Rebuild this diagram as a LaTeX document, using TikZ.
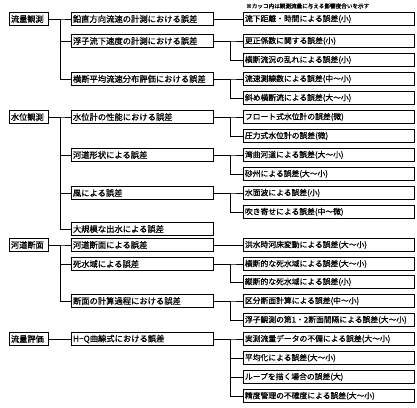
\documentclass[tikz,border=0pt]{standalone}
\usepackage{fontspec}
\setmainfont{Noto Sans CJK JP}[FakeBold=0.9]
\begin{document}
\begin{tikzpicture}[x=1pt,y=-1pt,
  box/.style={draw=black,line width=0.9pt,anchor=west,inner xsep=1.5pt,inner ysep=0pt,minimum height=13pt,align=left},
  lone/.style={box,text width=36pt,font=\fontsize{8.2}{9}\selectfont},
  ltwo/.style={box,text width=139pt,font=\fontsize{8.3}{9}\selectfont},
  lthree/.style={box,text width=168pt,font=\fontsize{7.8}{9}\selectfont},
  conn/.style={draw=black,line width=0.9pt}]
\useasboundingbox (0,0) rectangle (417,407);
\node[anchor=west,font=\fontsize{5.6}{6}\selectfont,inner sep=0pt] (note) at (246,6) {※カッコ内は観測流量に与える影響度合いを示す};
% level 1
\node[lone] (A) at (9,19) {流量観測};
\node[lone] (B) at (9,117) {水位観測};
\node[lone] (C) at (9,245) {河道断面};
\node[lone] (D) at (9,339) {流量評価};
% level 2
\node[ltwo] (A1) at (71,19) {鉛直方向流速の計測における誤差};
\node[ltwo] (A2) at (71,41) {浮子流下速度の計測における誤差};
\node[ltwo] (A3) at (71,79) {横断平均流速分布評価における誤差};
\node[ltwo] (B1) at (71,117) {水位計の性能における誤差};
\node[ltwo] (B2) at (71,155) {河道形状による誤差};
\node[ltwo] (B3) at (71,193) {風による誤差};
\node[ltwo] (B4) at (71,229) {大規模な出水による誤差};
\node[ltwo] (C1) at (71,245) {河道断面による誤差};
\node[ltwo] (C2) at (71,264) {死水域による誤差};
\node[ltwo] (C3) at (71,301) {断面の計算過程における誤差};
\node[ltwo] (D1) at (71,339) {H−Q曲線式における誤差};
% level 3
\node[lthree] (a11) at (243,19) {流下距離・時間による誤差(小)};
\node[lthree] (a21) at (243,41) {更正係数に関する誤差(小)};
\node[lthree] (a22) at (243,60) {横断流況の乱れによる誤差(小)};
\node[lthree] (a31) at (243,79) {流速測線数による誤差(中～小)};
\node[lthree] (a32) at (243,98) {斜め横断流による誤差(大～小)};
\node[lthree] (b11) at (243,117) {フロート式水位計の誤差(微)};
\node[lthree] (b12) at (243,136) {圧力式水位計の誤差(微)};
\node[lthree] (b21) at (243,155) {湾曲河道による誤差(大～小)};
\node[lthree] (b22) at (243,174) {砂州による誤差(大～小)};
\node[lthree] (b31) at (243,193) {水面波による誤差(小)};
\node[lthree] (b32) at (243,212) {吹き寄せによる誤差(中～微)};
\node[lthree] (c11) at (243,245) {洪水時河床変動による誤差(大～小)};
\node[lthree] (c21) at (243,264) {横断的な死水域による誤差(大～小)};
\node[lthree] (c22) at (243,282) {縦断的な死水域による誤差(小)};
\node[lthree] (c31) at (243,301) {区分断面計算による誤差(中～小)};
\node[lthree] (c32) at (243,320) {浮子観測の第1・2断面間隔による誤差(大～小)};
\node[lthree] (d11) at (243,339) {実測流量データの不備による誤差(大～小)};
\node[lthree] (d12) at (243,358) {平均化による誤差(大～小)};
\node[lthree] (d13) at (243,377) {ループを描く場合の誤差(大)};
\node[lthree] (d14) at (243,396) {精度管理の不確度による誤差(大～小)};
% trunk points
\coordinate (tA) at (60,19);
\coordinate (tB) at (60,117);
\coordinate (tC) at (60,245);
\coordinate (tD) at (60,339);
\coordinate (tA2) at (230,41);
\coordinate (tA3) at (230,79);
\coordinate (tB1) at (230,117);
\coordinate (tB2) at (230,155);
\coordinate (tB3) at (230,193);
\coordinate (tC2) at (230,264);
\coordinate (tC3) at (230,301);
\coordinate (tD1) at (230,339);
% level 1 -> 2
\foreach \c in {A1,A2,A3} \draw[conn] (A.east) -- (tA) |- (\c.west);
\foreach \c in {B1,B2,B3,B4} \draw[conn] (B.east) -- (tB) |- (\c.west);
\foreach \c in {C1,C2,C3} \draw[conn] (C.east) -- (tC) |- (\c.west);
\draw[conn] (D.east) -- (D1.west);
% level 2 -> 3
\draw[conn] (A1.east) -- (a11.west);
\foreach \c in {a21,a22} \draw[conn] (A2.east) -- (tA2) |- (\c.west);
\foreach \c in {a31,a32} \draw[conn] (A3.east) -- (tA3) |- (\c.west);
\foreach \c in {b11,b12} \draw[conn] (B1.east) -- (tB1) |- (\c.west);
\foreach \c in {b21,b22} \draw[conn] (B2.east) -- (tB2) |- (\c.west);
\foreach \c in {b31,b32} \draw[conn] (B3.east) -- (tB3) |- (\c.west);
\draw[conn] (C1.east) -- (c11.west);
\foreach \c in {c21,c22} \draw[conn] (C2.east) -- (tC2) |- (\c.west);
\foreach \c in {c31,c32} \draw[conn] (C3.east) -- (tC3) |- (\c.west);
\foreach \c in {d11,d12,d13,d14} \draw[conn] (D1.east) -- (tD1) |- (\c.west);
\end{tikzpicture}
\end{document}
